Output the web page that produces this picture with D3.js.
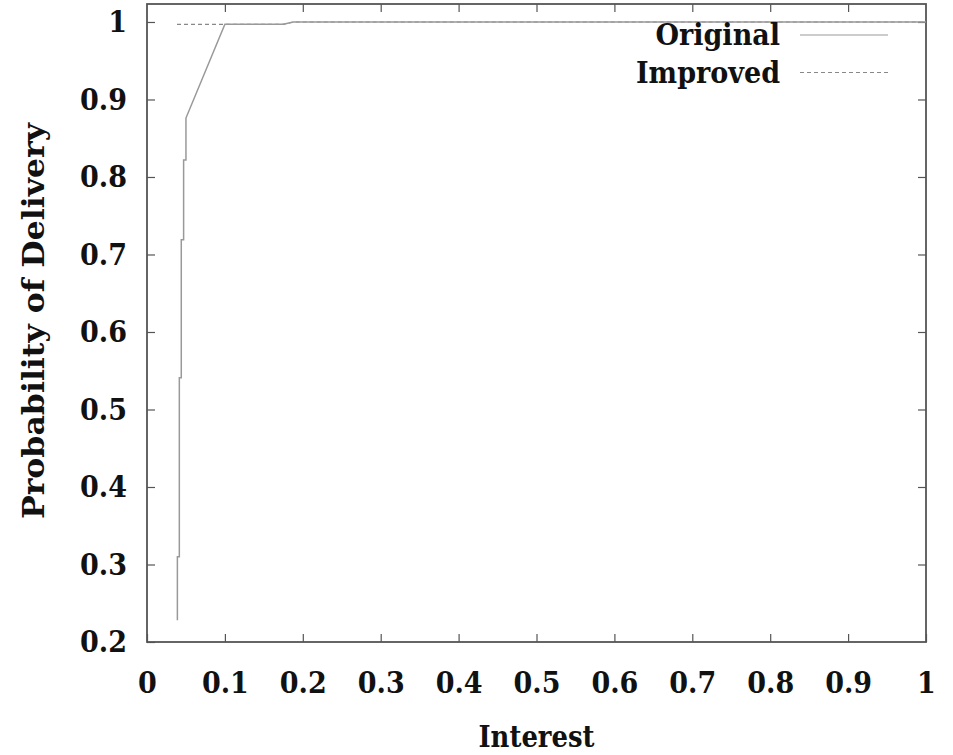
<!DOCTYPE html>
<html><head><meta charset="utf-8">
<script src="https://cdn.jsdelivr.net/npm/d3@7"></script>
<style>
body{margin:0;background:#fff;}
text{font-family:"DejaVu Serif",serif;font-stretch:condensed;font-weight:bold;fill:#111;}
</style></head>
<body><svg id="c" width="953" height="755"></svg>
<script>
// Data
const origX = [0.039, 0.039, 0.0415, 0.0415, 0.044, 0.044, 0.047, 0.047, 0.050, 0.050, 0.100, 0.175, 0.188, 1.000];
const origY = [0.228, 0.310, 0.310, 0.541, 0.541, 0.719, 0.719, 0.822, 0.822, 0.876, 0.997, 0.997, 1.000, 1.000];
const impX = [0.0385, 0.175, 0.188, 1.000];
const impY = [0.997, 0.997, 1.000, 1.000];
const xTicks = [0, 0.1, 0.2, 0.3, 0.4, 0.5, 0.6, 0.7, 0.8, 0.9, 1];
const yTicks = [0.2, 0.3, 0.4, 0.5, 0.6, 0.7, 0.8, 0.9, 1];
const seriesNames = ["Original", "Improved"];

const svg = d3.select("#c");
const L = 147, R = 926, T = 4, B = 642;
const x = d3.scaleLinear().domain([0, 1]).range([L, R]);
const y = d3.scaleLinear().domain([0.2, 1.0232]).range([B, T]);
const fs = 30;

const axisColor = "#555";
function styleAxis(g){
  g.select(".domain").remove();
  g.selectAll(".tick line").attr("stroke", axisColor).attr("stroke-width", 1.2);
  g.selectAll(".tick text").style("font-size", fs + "px").attr("fill", "#111");
}
svg.append("g").attr("transform", `translate(0,${B})`)
  .call(d3.axisBottom(x).tickValues(xTicks).tickFormat(d => d3.format("")(d)).tickSizeInner(-8).tickPadding(30))
  .call(styleAxis);
svg.append("g").attr("transform", `translate(0,${T})`)
  .call(d3.axisTop(x).tickValues(xTicks.slice(1, -1)).tickSizeInner(-8).tickFormat(""))
  .call(styleAxis);
svg.append("g").attr("transform", `translate(${L},0)`)
  .call(d3.axisLeft(y).tickValues(yTicks).tickFormat(d => d3.format("")(d)).tickSizeInner(-8).tickPadding(20))
  .call(styleAxis);
svg.append("g").attr("transform", `translate(${R},0)`)
  .call(d3.axisRight(y).tickValues(yTicks.slice(1)).tickSizeInner(-8).tickFormat(""))
  .call(styleAxis);

svg.append("rect").attr("x", L).attr("y", T).attr("width", R - L).attr("height", B - T)
  .attr("fill", "none").attr("stroke", axisColor).attr("stroke-width", 1.8);

const line = d3.line().x(d => x(d[0])).y(d => y(d[1]));
svg.append("path").datum(impX.map((v, i) => [v, impY[i]]))
  .attr("d", line).attr("fill", "none").attr("stroke", "#888").attr("stroke-width", 1.2)
  .attr("stroke-dasharray", "4,3");
svg.append("path").datum(origX.map((v, i) => [v, origY[i]]))
  .attr("d", line).attr("fill", "none").attr("stroke", "#999").attr("stroke-width", 1.5);

const leg = svg.append("g");
seriesNames.forEach((n, i) => {
  const yy = 35 + i * 37.5;
  leg.append("text").attr("x", 780).attr("y", yy + 10).attr("text-anchor", "end")
    .style("font-size", fs + "px").text(n);
  leg.append("line").attr("x1", 800).attr("x2", 888).attr("y1", yy).attr("y2", yy)
    .attr("stroke", i === 0 ? "#999" : "#888").attr("stroke-width", 1.2)
    .attr("stroke-dasharray", i === 0 ? null : "4,3");
});

svg.append("text").attr("x", (L + R) / 2).attr("y", 747).attr("text-anchor", "middle")
  .style("font-size", fs + "px").attr("textLength", 116).attr("lengthAdjust", "spacingAndGlyphs").text("Interest");
svg.append("text").attr("transform", "translate(44,321) rotate(-90)").attr("text-anchor", "middle")
  .style("font-size", fs + "px").style("font-stretch", "normal")
  .attr("textLength", 396).attr("lengthAdjust", "spacingAndGlyphs").text("Probability of Delivery");
</script></body></html>
